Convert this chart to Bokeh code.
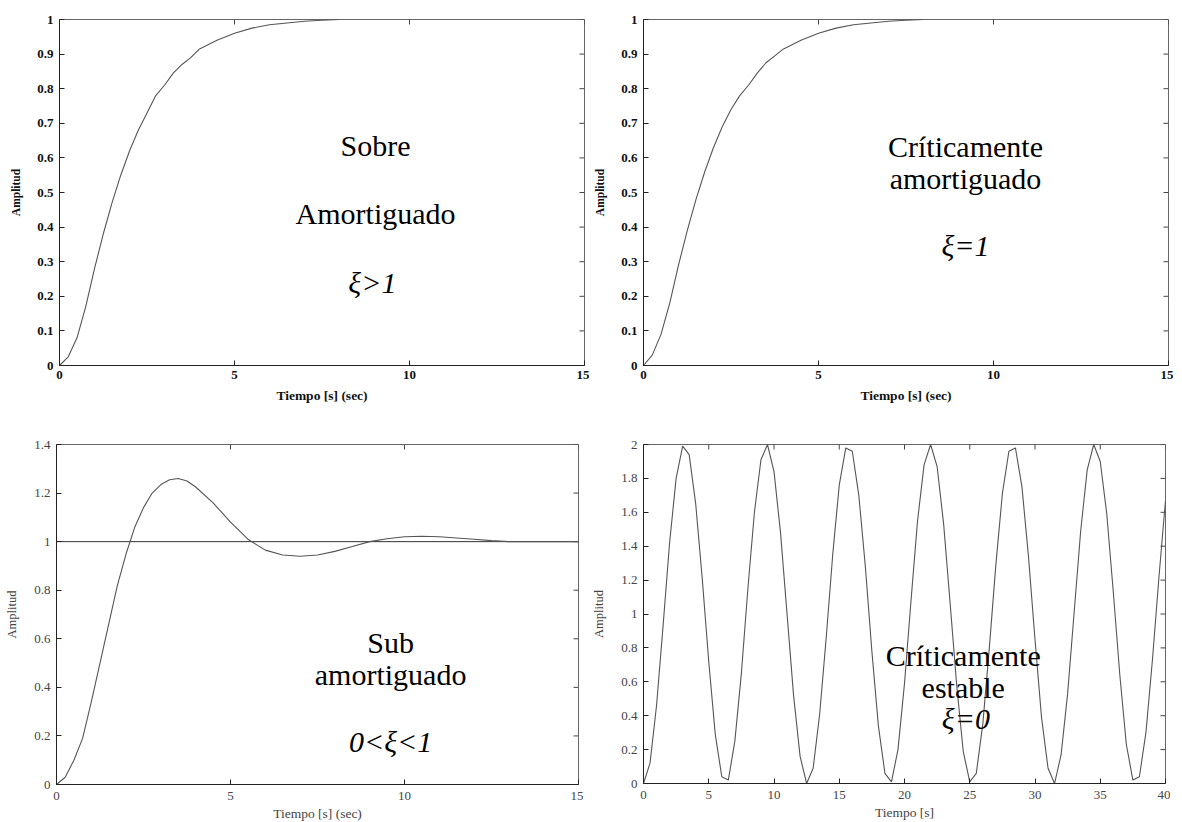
import math
from bokeh.plotting import figure
from bokeh.layouts import column, row
from bokeh.models import Range1d, FixedTicker, Label
from bokeh.embed import file_html
from bokeh.resources import INLINE

# ---------------- data ----------------
# Sobre amortiguado (top-left)
t_sobre = [0, 0.25, 0.5, 0.75, 1.0, 1.25, 1.5, 1.75, 2.0, 2.25, 2.5, 2.75, 3.0, 3.25,
           3.5, 3.75, 4.0, 4.5, 5.0, 5.5, 6.0, 6.5, 7.0, 7.5, 8.0]
y_sobre = [0, 0.025, 0.08, 0.17, 0.28, 0.38, 0.47, 0.55, 0.62, 0.68, 0.73, 0.78, 0.81, 0.845,
           0.87, 0.89, 0.915, 0.94, 0.96, 0.975, 0.985, 0.99, 0.995, 0.998, 1.0]

# Críticamente amortiguado (top-right)
t_crit = [0, 0.25, 0.5, 0.75, 1.0, 1.25, 1.5, 1.75, 2.0, 2.25, 2.5, 2.75, 3.0, 3.25,
          3.5, 3.75, 4.0, 4.5, 5.0, 5.5, 6.0, 6.5, 7.0, 7.5, 8.0]
y_crit = [0, 0.03, 0.09, 0.18, 0.29, 0.39, 0.48, 0.56, 0.63, 0.69, 0.74, 0.78, 0.81, 0.845,
          0.875, 0.895, 0.915, 0.94, 0.96, 0.975, 0.985, 0.99, 0.995, 0.998, 1.0]

# Sub amortiguado (bottom-left)
t_sub = [0, 0.25, 0.5, 0.75, 1.0, 1.25, 1.5, 1.75, 2.0, 2.25, 2.5, 2.75, 3.0, 3.25, 3.5,
         3.75, 4.0, 4.5, 5.0, 5.5, 6.0, 6.5, 7.0, 7.5, 8.0, 8.5, 9.0, 9.5, 10.0, 10.5, 11.0,
         11.5, 12.0, 12.5, 13.0, 14.0, 15.0]
y_sub = [0, 0.03, 0.10, 0.19, 0.34, 0.50, 0.66, 0.82, 0.95, 1.06, 1.14, 1.20, 1.235, 1.255,
         1.26, 1.25, 1.225, 1.16, 1.08, 1.01, 0.965, 0.945, 0.94, 0.945, 0.96, 0.98, 1.0,
         1.012, 1.02, 1.022, 1.02, 1.015, 1.01, 1.004, 1.0, 1.0, 1.0]
ref_level = 1.0

# Críticamente estable (bottom-right)
t_osc = [0, 0.5, 1, 1.5, 2, 2.5, 3, 3.5, 4, 4.5, 5, 5.5, 6, 6.5, 7, 7.5, 8, 8.5, 9, 9.5,
         10, 10.5, 11, 11.5, 12, 12.5, 13, 13.5, 14, 14.5, 15, 15.5, 16, 16.5, 17, 17.5,
         18, 18.5, 19, 19.5, 20, 20.5, 21, 21.5, 22, 22.5, 23, 23.5, 24, 24.5, 25, 25.5,
         26, 26.5, 27, 27.5, 28, 28.5, 29, 29.5, 30, 30.5, 31, 31.5, 32, 32.5, 33, 33.5,
         34, 34.5, 35, 35.5, 36, 36.5, 37, 37.5, 38, 38.5, 39, 39.5, 40]
y_osc = [0, 0.12, 0.46, 0.93, 1.42, 1.80, 1.99, 1.94, 1.65, 1.21, 0.72, 0.29, 0.04, 0.02,
         0.25, 0.65, 1.15, 1.60, 1.91, 2.00, 1.84, 1.48, 1.00, 0.52, 0.16, 0.00, 0.09, 0.41,
         0.86, 1.35, 1.76, 1.98, 1.96, 1.70, 1.28, 0.78, 0.34, 0.06, 0.01, 0.20, 0.59, 1.08,
         1.55, 1.88, 2.00, 1.87, 1.53, 1.06, 0.58, 0.19, 0.01, 0.06, 0.35, 0.80, 1.29, 1.71,
         1.96, 1.98, 1.75, 1.34, 0.85, 0.39, 0.09, 0.00, 0.17, 0.53, 1.01, 1.49, 1.85, 2.00,
         1.90, 1.59, 1.13, 0.64, 0.23, 0.02, 0.04, 0.30, 0.73, 1.22, 1.67]

x_ticks_15 = [0, 5, 10, 15]
x_ticks_40 = [0, 5, 10, 15, 20, 25, 30, 35, 40]
y_ticks_1 = [0, 0.1, 0.2, 0.3, 0.4, 0.5, 0.6, 0.7, 0.8, 0.9, 1]
y_labels_1 = ["0", "0.1", "0.2", "0.3", "0.4", "0.5", "0.6", "0.7", "0.8", "0.9", "1"]
y_ticks_14 = [0, 0.2, 0.4, 0.6, 0.8, 1, 1.2, 1.4]
y_labels_14 = ["0", "0.2", "0.4", "0.6", "0.8", "1", "1.2", "1.4"]
y_ticks_2 = [0, 0.2, 0.4, 0.6, 0.8, 1, 1.2, 1.4, 1.6, 1.8, 2]
y_labels_2 = ["0", "0.2", "0.4", "0.6", "0.8", "1", "1.2", "1.4", "1.6", "1.8", "2"]

SERIF = "Liberation Serif"
LINE = "#555555"


def make_fig(fw, fh, bl, br, bt, bb, xr, yr, xt, yt, ylabels, xtitle, bold):
    p = figure(frame_width=fw, frame_height=fh, min_border_left=bl, min_border_right=br,
               min_border_top=bt, min_border_bottom=bb, x_range=Range1d(*xr),
               y_range=Range1d(*yr), output_backend="svg", toolbar_location=None)
    p.grid.visible = False
    p.outline_line_color = "#666666"
    style = "bold" if bold else "normal"
    lab_color = "#111111" if bold else "#444444"
    for ax in p.xaxis:
        ax.ticker = FixedTicker(ticks=xt)
        ax.major_label_overrides = {v: str(v) for v in xt}
    for ax in p.yaxis:
        ax.ticker = FixedTicker(ticks=yt)
        ax.major_label_overrides = {v: s for v, s in zip(yt, ylabels)}
    for ax in list(p.xaxis) + list(p.yaxis):
        ax.major_tick_in = 5
        ax.major_tick_out = 0
        ax.minor_tick_line_color = None
        ax.axis_line_color = "#222222"
        ax.major_tick_line_color = "#222222"
        ax.major_label_text_font = SERIF
        ax.major_label_text_font_size = "13px"
        ax.major_label_text_font_style = style
        ax.major_label_text_color = lab_color
        ax.axis_label_text_font = SERIF
        ax.axis_label_text_font_style = style
        ax.axis_label_text_color = lab_color
    p.xaxis.axis_label = xtitle
    p.xaxis.axis_label_text_font_size = "13.5px"
    p.xaxis.axis_label_standoff = 6 if bold else 3
    p.xaxis.major_label_standoff = 5 if bold else 7
    p.yaxis.axis_label = "Amplitud"
    p.yaxis.axis_label_text_font_size = "11.5px" if bold else "12.5px"
    p.yaxis.axis_label_standoff = 12
    p.yaxis.major_label_standoff = 6

    # inner ticks on the top and right edges of the box
    p.ray(x=xt, y=[yr[1]] * len(xt), length=5, length_units="screen",
          angle=-math.pi / 2, line_color="#444444", line_width=1)
    p.ray(x=[xr[1]] * len(yt), y=yt, length=5, length_units="screen",
          angle=math.pi, line_color="#444444", line_width=1)
    return p


def add_labels(p, items, size="30px"):
    for x, y, txt, italic in items:
        p.add_layout(Label(x=x, y=y, text=txt, text_align="center", text_baseline="middle",
                           text_font=SERIF, text_font_size=size,
                           text_font_style="italic" if italic else "normal",
                           text_color="#000000"))


# top-left
p1 = make_fig(525, 346, 59, 5, 17, 45, (0, 15), (0, 1), x_ticks_15, y_ticks_1, y_labels_1,
              "Tiempo [s] (sec)", True)
p1.line(t_sobre, y_sobre, line_color=LINE, line_width=1.1)
add_labels(p1, [(9.03, 0.636, "Sobre", False), (9.03, 0.44, "Amortiguado", False),
                (8.94, 0.24, "ξ>1", True)])

# top-right
p2 = make_fig(525, 346, 54, 5, 19, 43, (0, 15), (0, 1), x_ticks_15, y_ticks_1, y_labels_1,
              "Tiempo [s] (sec)", True)
p2.line(t_crit, y_crit, line_color=LINE, line_width=1.1)
add_labels(p2, [(9.2, 0.633, "Críticamente", False), (9.2, 0.54, "amortiguado", False),
                (9.2, 0.347, "ξ=1", True)])

# bottom-left
p3 = make_fig(522, 340, 56, 5, 35, 32, (0, 15), (0, 1.4), x_ticks_15, y_ticks_14, y_labels_14,
              "Tiempo [s] (sec)", False)
p3.line([0, 15], [ref_level, ref_level], line_color="#333333", line_width=1)
p3.line(t_sub, y_sub, line_color=LINE, line_width=1.1)
add_labels(p3, [(9.6, 0.585, "Sub", False), (9.6, 0.453, "amortiguado", False),
                (9.6, 0.177, "0<ξ<1", True)])

# bottom-right
p4 = make_fig(522, 339, 60, 5, 36, 32, (0, 40), (0, 2), x_ticks_40, y_ticks_2, y_labels_2,
              "Tiempo [s]", False)
p4.line(t_osc, y_osc, line_color=LINE, line_width=1.1)
add_labels(p4, [(24.5, 0.755, "Críticamente", False), (24.5, 0.566, "estable", False),
                (24.7, 0.383, "ξ=0", True)])

layout = column(row(p1, p2, spacing=0), row(p3, p4, spacing=0), spacing=0)

open("out.html", "w").write(file_html(layout, INLINE))
